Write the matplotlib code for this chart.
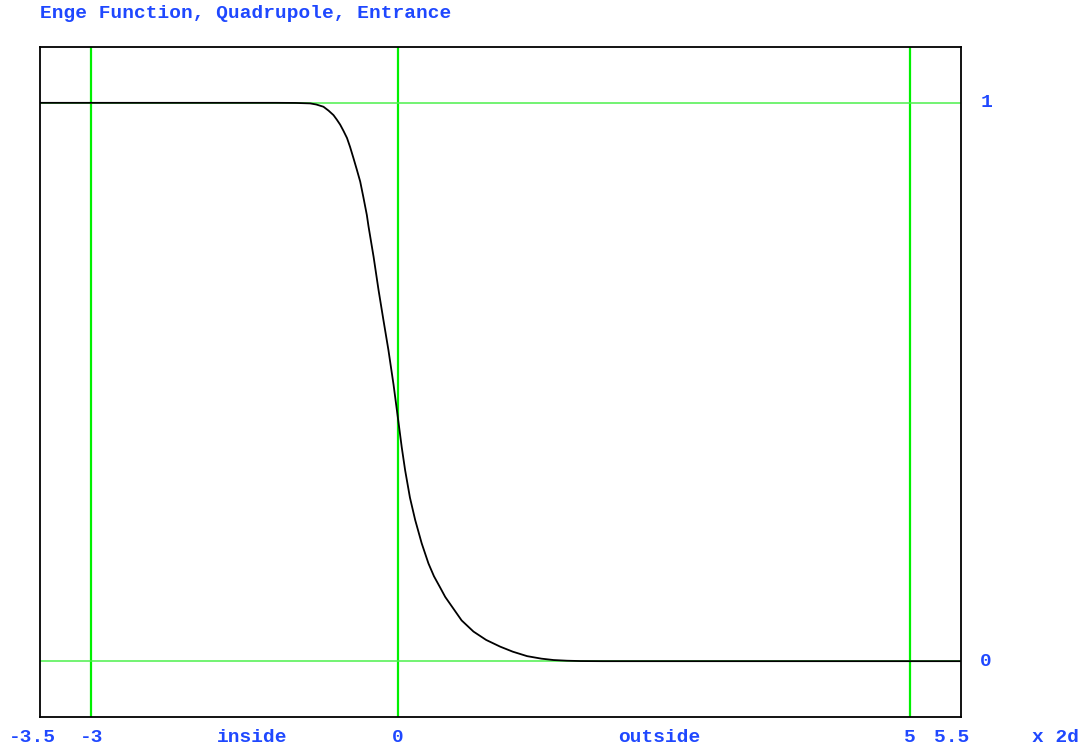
import matplotlib
matplotlib.use("Agg")
import matplotlib.pyplot as plt

# curve (x in units of 2d, y = Enge function value)
x_curve = [-3.5, -1.2, -1.0, -0.86, -0.8, -0.73, -0.68, -0.632, -0.6, -0.567, -0.535,
           -0.5, -0.47, -0.437, -0.405, -0.371, -0.34, -0.306, -0.29, -0.24, -0.192,
           -0.145, -0.095, -0.045, 0.003, 0.035, 0.068, 0.115, 0.166, 0.23, 0.296,
           0.35, 0.41, 0.46, 0.54, 0.62, 0.736, 0.86, 0.997, 1.12, 1.26, 1.4, 1.52,
           1.65, 1.78, 2.0, 5.5]
y_curve = [1.0, 1.0, 0.9998, 0.999, 0.997, 0.993, 0.986, 0.978, 0.970, 0.961, 0.950,
           0.937, 0.921, 0.901, 0.881, 0.859, 0.831, 0.799, 0.779, 0.724, 0.665,
           0.612, 0.557, 0.495, 0.428, 0.383, 0.342, 0.293, 0.253, 0.211, 0.175,
           0.152, 0.132, 0.115, 0.094, 0.073, 0.053, 0.038, 0.026, 0.017, 0.009,
           0.0045, 0.002, 0.0008, 0.0002, 0.0, 0.0]

vlines = [-3, 0, 5]
hlines = [0, 1]

xlabels = ["-3.5", "-3", "inside", "0", "outside", "5", "5.5"]
xlabel_pos = [-3.57, -3.0, -1.43, 0.0, 2.55, 5.0, 5.41]
ylabels = ["0", "1"]
ylabel_pos = [0, 1]

blue = "#1f48ff"
font = dict(family="Liberation Mono", weight="bold", size=14, color=blue)

fig = plt.figure(figsize=(10.89, 7.48), dpi=100)
ax = fig.add_axes([40 / 1089, 1 - 717 / 748, 921 / 1089, 670 / 748])

for v in vlines:
    ax.axvline(v, color="#00f000", lw=1.6, zorder=1)
for h in hlines:
    ax.axhline(h, color="#4cf04c", lw=1.1, zorder=1)

ax.plot(x_curve, y_curve, color="black", lw=1.3, zorder=2)

ax.set_xlim(-3.5, 5.5)
ax.set_ylim(-0.1, 1.1)
ax.set_xticks([])
ax.set_yticks([])
for s in ax.spines.values():
    s.set_linewidth(1.3)
    s.set_color("black")

# labels under the axis
yb = -21 / 670
for lab, xp in zip(xlabels, xlabel_pos):
    ax.text(xp, yb, lab, transform=ax.get_xaxis_transform(), ha="center", va="center", **font)
ax.text(1 + 94 / 921, yb, "x 2d", transform=ax.transAxes, ha="center", va="center", **font)

# labels right of the axis
for lab, yp in zip(ylabels, ylabel_pos):
    ax.text(1 + 25 / 921, yp, lab, transform=ax.get_yaxis_transform(), ha="center", va="center", **font)

fig.text(40 / 1089, 1 - 14 / 748, "Enge Function, Quadrupole, Entrance", ha="left", va="center", **font)

fig.savefig("out.png", dpi=100)
